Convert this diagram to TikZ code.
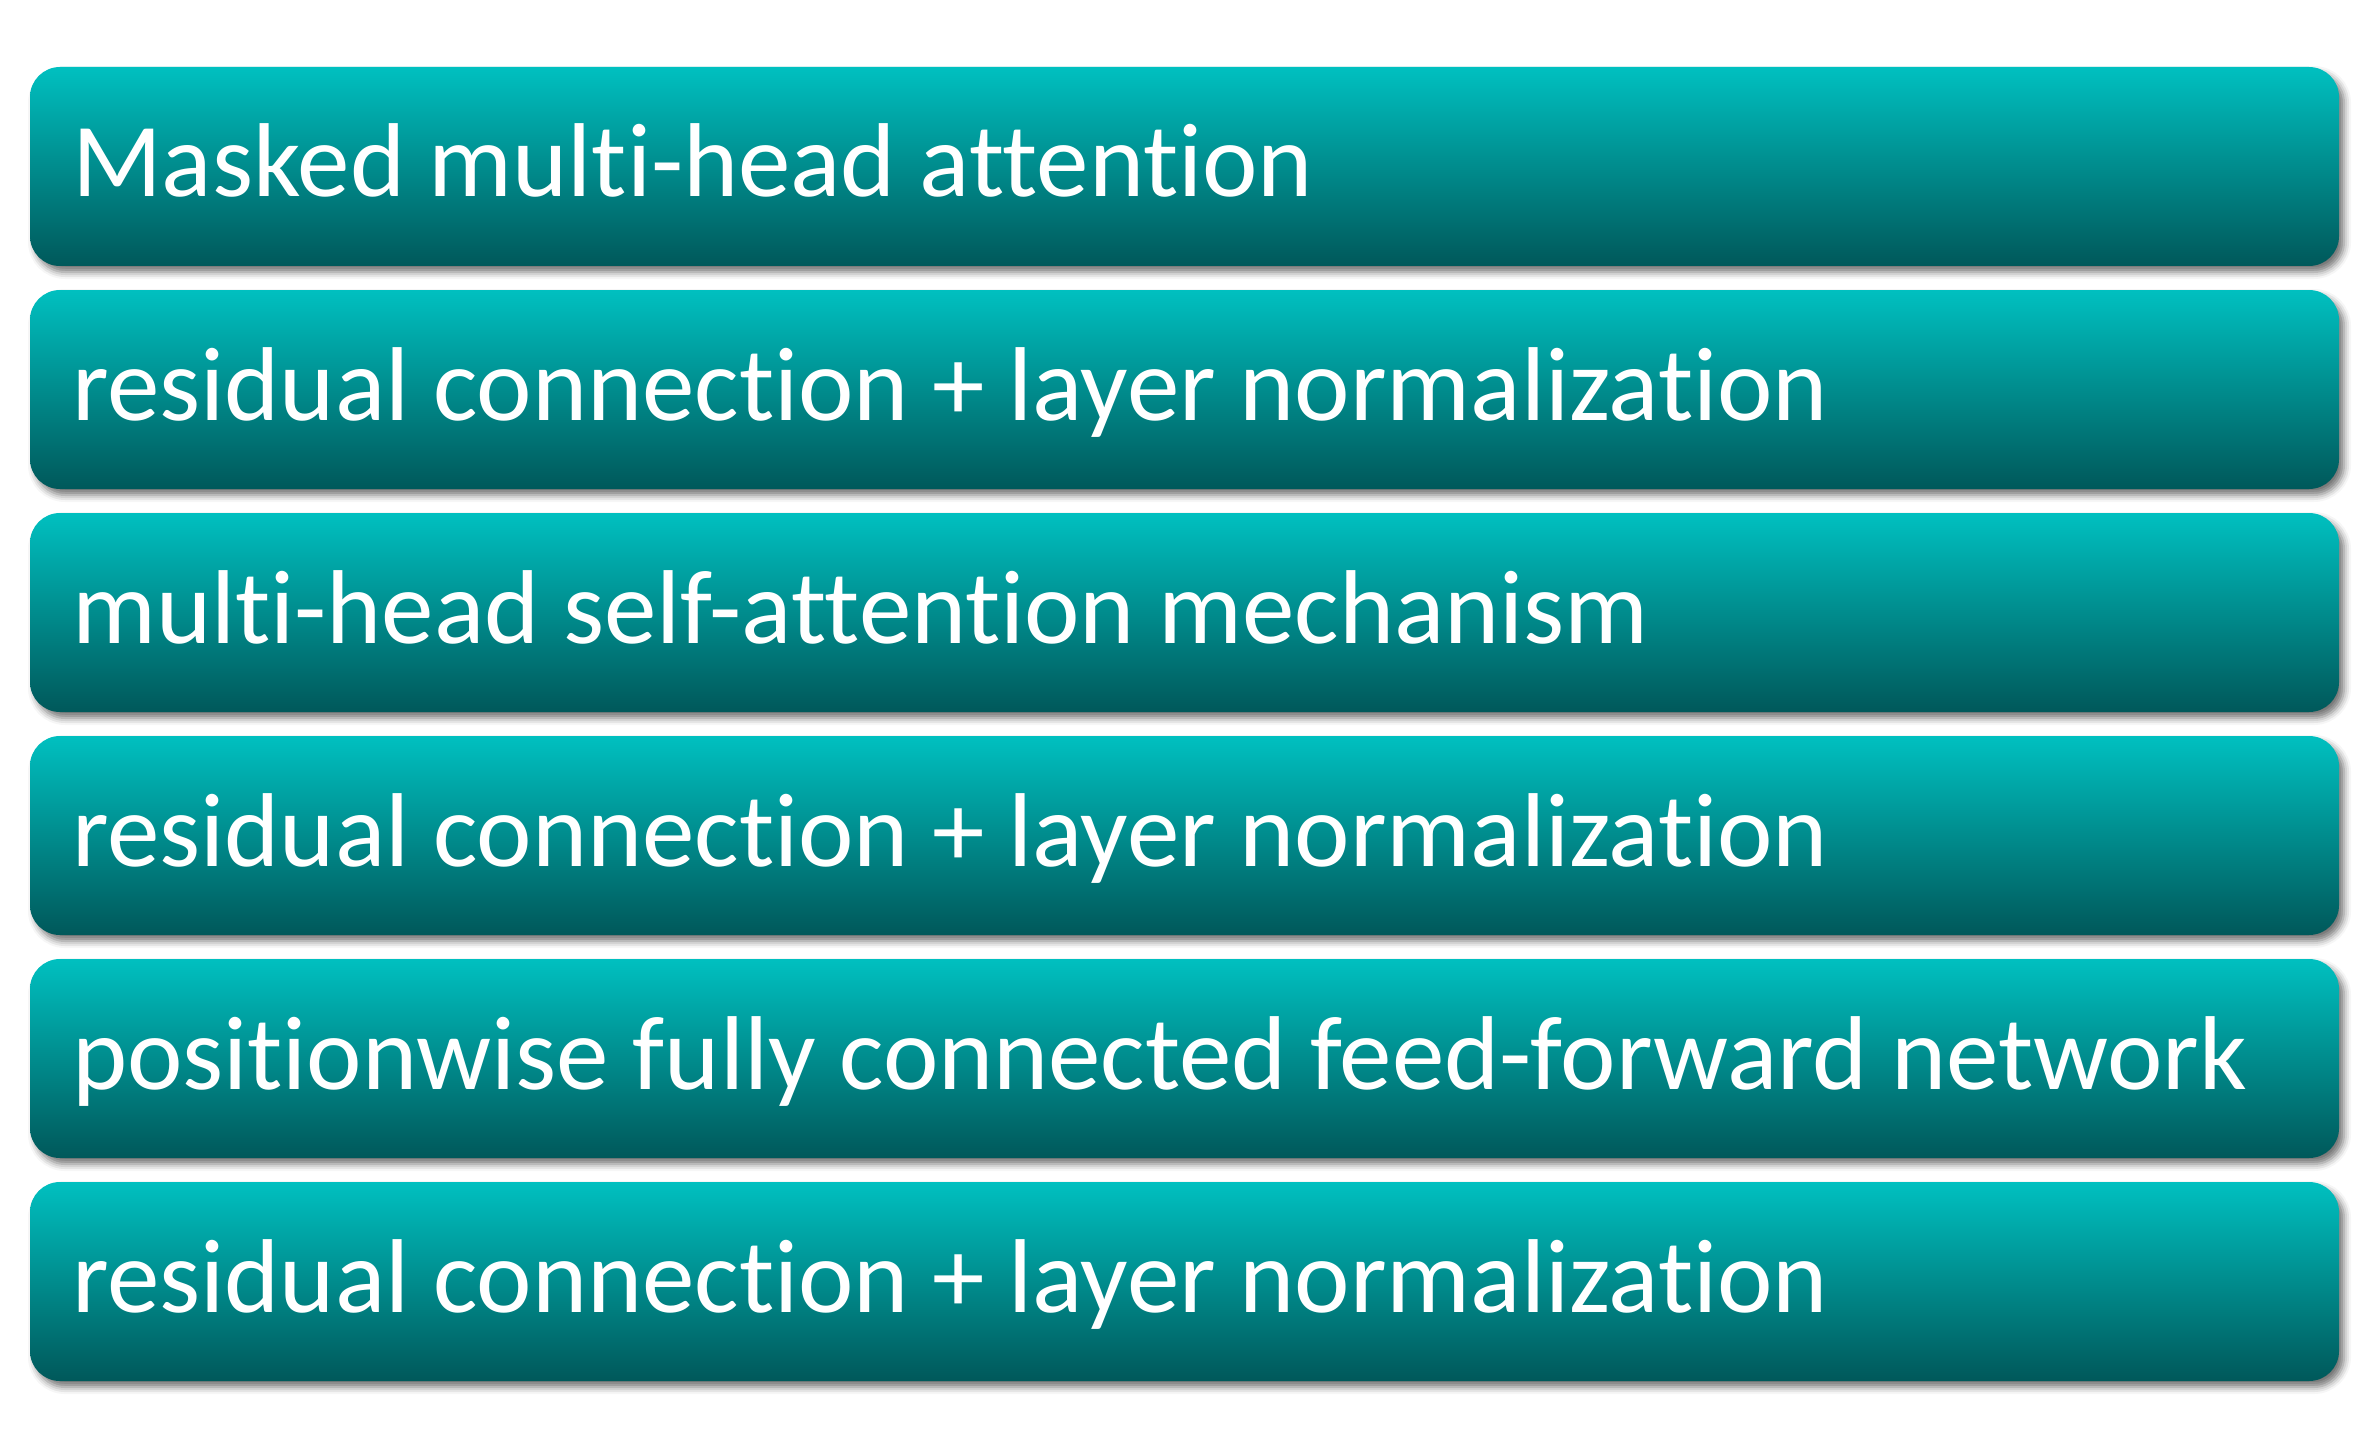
\documentclass[tikz,border=0pt]{standalone}
\usepackage{fontspec}
\setmainfont{Carlito}[Ligatures=NoCommon]
\usetikzlibrary{shadows.blur}
\definecolor{tealtop}{RGB}{0,192,192}
\definecolor{tealbot}{RGB}{0,88,90}
\begin{document}
\begin{tikzpicture}[x=1pt,y=-1pt,
  layerbox/.style={rounded corners=30pt, top color=tealtop, bottom color=tealbot,
    minimum width=2309pt, minimum height=199pt, inner sep=0pt,
    blur shadow={shadow xshift=5pt, shadow yshift=-6pt, shadow blur radius=7pt, shadow opacity=55}},
  layertext/.style={anchor=base west, text=white, inner sep=0pt,
    font=\fontsize{105}{110}\selectfont}]
\useasboundingbox (0,0) rectangle (2360,1447);
\foreach \i/\t in {0/Masked multi-head attention,
                   1/residual connection + layer normalization,
                   2/multi-head self-attention mechanism,
                   3/residual connection + layer normalization,
                   4/positionwise fully connected feed-forward network,
                   5/residual connection + layer normalization}{
  \pgfmathsetmacro{\top}{67+223*\i}
  \node[layerbox] (box\i) at (1184.5, \top+99.5) {};
  \node[layertext] (lbl\i) at (72, \top+130) {\t};
}
\end{tikzpicture}
\end{document}
